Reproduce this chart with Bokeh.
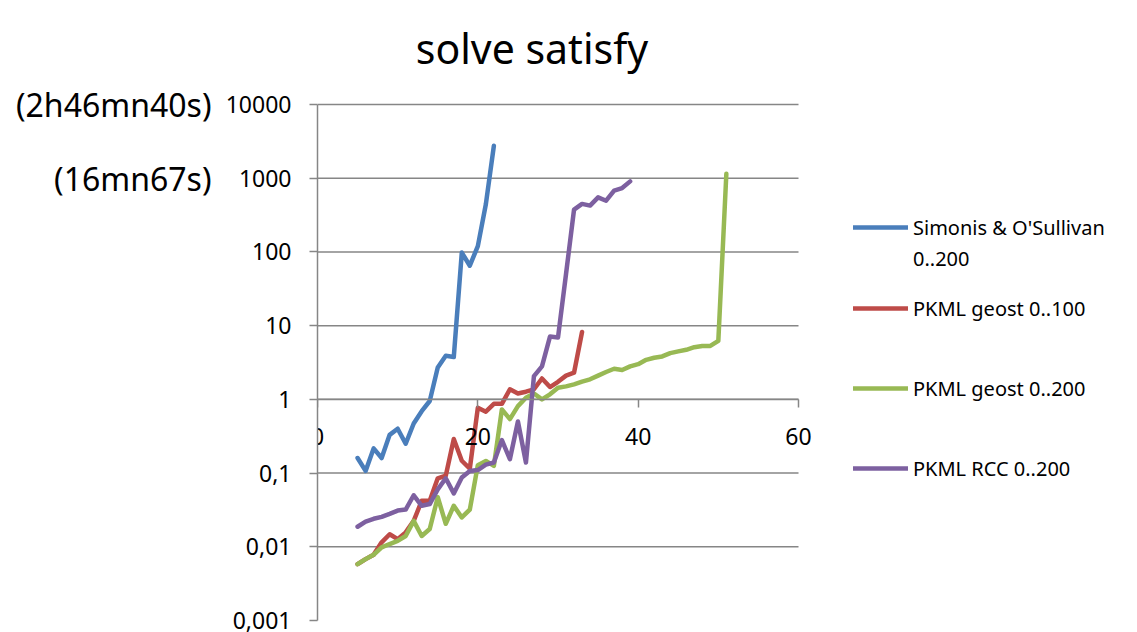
from bokeh.plotting import figure
from bokeh.models import (Legend, LegendItem, LinearAxis, LogAxis, FixedTicker,
                          CustomJSTickFormatter, Range1d, Label)
from bokeh.embed import file_html
from bokeh.resources import INLINE

FONT = "Noto Sans"

# ---------------- data ----------------
x_simonis = list(range(5, 23))
y_simonis = [0.16, 0.107, 0.216, 0.16, 0.33, 0.40, 0.25, 0.47, 0.69, 0.95,
             2.7, 3.9, 3.75, 98, 65, 120, 444, 2750]

x_geost100 = list(range(5, 34))
y_geost100 = [0.0058, 0.0068, 0.0078, 0.0115, 0.0148, 0.0127, 0.0157, 0.0225,
              0.042, 0.042, 0.085, 0.092, 0.29, 0.147, 0.115, 0.77, 0.68, 0.87,
              0.87, 1.37, 1.2, 1.27, 1.37, 1.92, 1.47, 1.73, 2.1, 2.3, 8.2]

x_geost200 = list(range(5, 52))
y_geost200 = [0.0058, 0.0068, 0.0078, 0.0098, 0.0109, 0.012, 0.014, 0.0225,
              0.014, 0.0174, 0.047, 0.0205, 0.036, 0.025, 0.032, 0.128, 0.146,
              0.125, 0.73, 0.54, 0.81, 1.05, 1.2, 1.0, 1.17, 1.44, 1.5, 1.6,
              1.74, 1.87, 2.1, 2.35, 2.6, 2.5, 2.8, 3.0, 3.44, 3.67, 3.82,
              4.24, 4.47, 4.7, 5.1, 5.3, 5.3, 6.2, 1150]

x_rcc = list(range(5, 40))
y_rcc = [0.0187, 0.022, 0.024, 0.0255, 0.028, 0.031, 0.032, 0.05, 0.036,
         0.038, 0.06, 0.085, 0.053, 0.087, 0.107, 0.11, 0.13, 0.139, 0.28,
         0.154, 0.5, 0.139, 2.07, 2.8, 7.1, 6.9, 50, 375, 448, 425, 550, 495,
         680, 736, 906]

series_names = ["Simonis & O'Sullivan", "PKML geost 0..100",
                "PKML geost 0..200", "PKML RCC 0..200"]
series_name_2nd_line = "0..200"
series_colors = ["#4a7ebb", "#be4b48", "#98b954", "#7d60a0"]

y_ticks = [0.001, 0.01, 0.1, 1, 10, 100, 1000, 10000]
grid_values = [0.01, 0.1, 1, 10, 100, 1000, 10000]
x_ticks = [0, 20, 40, 60]
x_min, x_max = 0, 60
y_min, y_max = 0.001, 10000

title_text = "solve satisfy"
note_values = [10000, 1000]
note_texts = ["(2h46mn40s)", "(16mn67s)"]

# ---------------- layout constants ----------------
W, H = 1129, 632
FRAME_LEFT = 317          # px where x = 0
FRAME_X60 = 798           # px where x = 60
PLOT_TOP, PLOT_BOTTOM = 104, 620   # px of y = 10000 and y = 0.001
x_view_end = x_max * (W - FRAME_LEFT) / (FRAME_X60 - FRAME_LEFT)
px_per_decade = (PLOT_BOTTOM - PLOT_TOP) / 7.0
y_view_end = 10 ** (4 + PLOT_TOP / px_per_decade)

p = figure(width=W, height=H, y_axis_type="log",
           x_range=Range1d(x_min, x_view_end), y_range=Range1d(y_min, y_view_end),
           output_backend="svg", toolbar_location=None,
           x_axis_location=None,
           min_border_left=FRAME_LEFT, min_border_right=0,
           min_border_top=0, min_border_bottom=H - PLOT_BOTTOM)
p.outline_line_color = None
p.background_fill_color = "white"
p.border_fill_color = "white"

GRAY = "#868686"

# y axis
yax = p.yaxis[0]
yax.bounds = (y_min, y_max)
yax.ticker = FixedTicker(ticks=y_ticks, minor_ticks=[])
yax.formatter = CustomJSTickFormatter(code="return tick.toString().replace('.', ',');")
yax.axis_line_color = GRAY
yax.axis_line_width = 1.5
yax.major_tick_line_color = GRAY
yax.major_tick_line_width = 1.5
yax.major_tick_out = 8
yax.major_tick_in = 0
yax.minor_tick_line_color = None
yax.major_label_standoff = 18
yax.major_label_text_font = FONT
yax.major_label_text_font_size = "23px"
yax.major_label_text_color = "black"

# second left axis carrying the duration notes
nax = LogAxis(ticker=FixedTicker(ticks=note_values, minor_ticks=[]),
              formatter=CustomJSTickFormatter(args=dict(vals=note_values, txt=note_texts),
                                              code="const i = vals.indexOf(tick); return i >= 0 ? txt[i] : '';"))
nax.axis_line_color = None
nax.major_tick_line_color = None
nax.minor_tick_line_color = None
nax.major_tick_out = 0
nax.major_tick_in = 0
nax.major_label_standoff = 11
nax.major_label_text_font = FONT
nax.major_label_text_font_size = "32px"
nax.major_label_text_color = "black"
p.add_layout(nax, "left")

# horizontal grid lines limited to the x-range of the chart
p.ygrid.visible = False
p.xgrid.visible = False
p.segment(x0=[x_min] * len(grid_values), x1=[x_max] * len(grid_values),
          y0=grid_values, y1=grid_values, line_color=GRAY, line_width=1.5)

# x axis crossing at y = 1
xax = LinearAxis(fixed_location=1, bounds=(x_min, x_max),
                 ticker=FixedTicker(ticks=x_ticks, minor_ticks=[]))
xax.axis_line_color = GRAY
xax.axis_line_width = 1.5
xax.major_tick_line_color = GRAY
xax.major_tick_line_width = 1.5
xax.major_tick_out = 8
xax.major_tick_in = 0
xax.minor_tick_line_color = None
xax.major_label_standoff = 21
xax.major_label_text_font = FONT
xax.major_label_text_font_size = "23px"
xax.major_label_text_color = "black"
p.add_layout(xax, "below")

# lines
xs = [x_simonis, x_geost100, x_geost200, x_rcc]
ys = [y_simonis, y_geost100, y_geost200, y_rcc]
renderers = []
for xx, yy, c in zip(xs, ys, series_colors):
    r = p.line(xx, yy, line_color=c, line_width=4.5, line_join="round", line_cap="round")
    renderers.append(r)
# empty, invisible renderer used only for the wrapped second legend line
wrap_r = p.line([], [], line_alpha=0)

common = dict(padding=0, margin=0, glyph_width=55, glyph_height=30,
              label_standoff=5, label_height=30,
              label_text_font=FONT, label_text_font_size="20px",
              label_text_color="black", border_line_color=None,
              background_fill_alpha=0)

legend_a = Legend(items=[LegendItem(label=series_names[0], renderers=[renderers[0]]),
                         LegendItem(label=series_name_2nd_line, renderers=[wrap_r])],
                  location=(536, 347), spacing=1, **common)
legend_b = Legend(items=[LegendItem(label=n, renderers=[r])
                         for n, r in zip(series_names[1:], renderers[1:])],
                  location=(536, 137), spacing=50, **common)
p.add_layout(legend_a, "center")
p.add_layout(legend_b, "center")

# chart title
p.add_layout(Label(x=214.5, y=PLOT_BOTTOM - 47, x_units="screen", y_units="screen",
                   text=title_text, text_font=FONT, text_font_size="41px",
                   text_align="center", text_baseline="alphabetic",
                   text_color="black"))

open("out.html", "w").write(file_html(p, INLINE))
